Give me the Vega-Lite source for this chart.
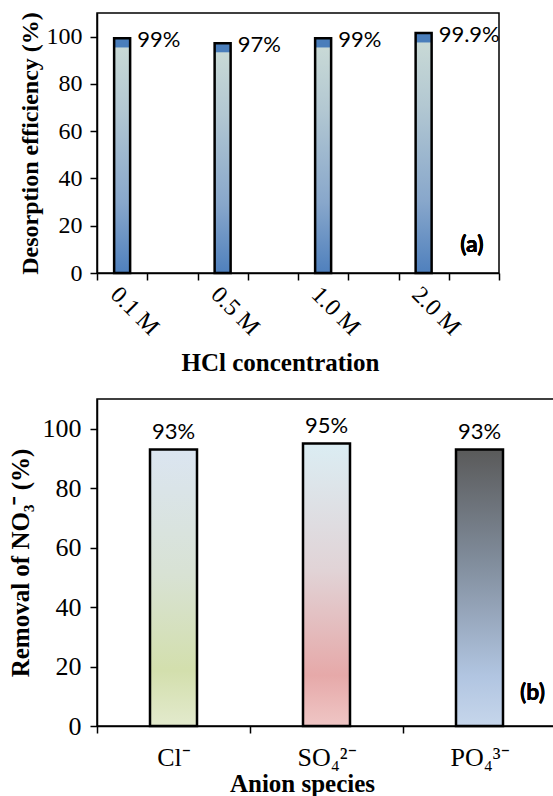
{
  "$schema": "https://vega.github.io/schema/vega-lite/v6.json",
  "padding": {"top": 10, "left": 7, "right": 0, "bottom": 0},
  "background": "white",
  "datasets": {
    "a": [
      {"conc": "0.1 M", "eff": 99.3, "label": "99%"},
      {"conc": "0.5 M", "eff": 97.2, "label": "97%"},
      {"conc": "1.0 M", "eff": 99.3, "label": "99%"},
      {"conc": "2.0 M", "eff": 101.5, "label": "99.9%"}
    ],
    "b": [
      {"anion": "Cl⁻", "removal": 93, "label": "93%"},
      {"anion": "SO₄²⁻", "removal": 95, "label": "95%"},
      {"anion": "PO₄³⁻", "removal": 93, "label": "93%"}
    ]
  },
  "config": {
    "view": {"stroke": "black", "strokeWidth": 1.5},
    "axis": {
      "grid": false,
      "domainColor": "black",
      "domainWidth": 1.5,
      "tickColor": "black",
      "tickWidth": 1.5,
      "labelColor": "black",
      "titleColor": "black",
      "labelFont": "Liberation Serif",
      "titleFont": "Liberation Serif",
      "titleFontWeight": "bold",
      "labelFontSize": 24,
      "titleFontSize": 25
    }
  },
  "spacing": 21,
  "vconcat": [
    {
      "width": 402,
      "height": 260,
      "data": {"name": "a"},
      "layer": [
        {
          "mark": {
            "type": "bar",
            "size": 16,
            "stroke": "black",
            "strokeWidth": 2.5,
            "fill": {
              "gradient": "linear", "x1": 0, "y1": 0, "x2": 0, "y2": 1,
              "stops": [
                {"offset": 0, "color": "#4a7ebb"},
                {"offset": 0.036, "color": "#4a7ebb"},
                {"offset": 0.042, "color": "#c8d9d6"},
                {"offset": 0.3, "color": "#b3c8d2"},
                {"offset": 0.7, "color": "#88a7cb"},
                {"offset": 1, "color": "#4f80bd"}
              ]
            }
          },
          "encoding": {
            "x": {
              "field": "conc", "type": "nominal",
              "scale": {"domain": ["0.1 M", "g1", "0.5 M", "g2", "1.0 M", "g3", "2.0 M", "g4"], "paddingInner": 0, "paddingOuter": 0},
              "axis": {
                "title": "HCl concentration",
                "titleX": 183,
                "tickBand": "extent",
                "tickSize": 7,
                "labelAngle": 45,
                "labelAlign": "left",
                "labelBaseline": "top",
                "labelPadding": 2,
                "labelExpr": "datum.label[0] == 'g' ? '' : datum.label",
                "titlePadding": 11
              }
            },
            "y": {
              "field": "eff", "type": "quantitative",
              "scale": {"domain": [0, 110], "nice": false},
              "axis": {"values": [0, 20, 40, 60, 80, 100], "title": "Desorption efficiency (%)", "titleFontSize": 24, "tickSize": 7, "labelPadding": 8, "titlePadding": 4}
            }
          }
        },
        {
          "mark": {"type": "text", "align": "left", "baseline": "middle", "dx": 15, "dy": 2, "font": "Lato", "fontSize": 22, "color": "black"},
          "encoding": {
            "x": {"field": "conc", "type": "nominal"},
            "y": {"field": "eff", "type": "quantitative"},
            "text": {"field": "label"}
          }
        },
        {
          "mark": {"type": "text", "font": "Lato", "fontWeight": "bold", "fontSize": 23, "color": "black", "baseline": "middle", "dx": -2},
          "encoding": {
            "x": {"datum": "g4", "type": "nominal"},
            "y": {"datum": 12, "type": "quantitative"},
            "text": {"value": "(a)"}
          }
        }
      ]
    },
    {
      "width": 459,
      "height": 327,
      "data": {"name": "b"},
      "encoding": {
        "x": {
          "field": "anion", "type": "nominal",
          "scale": {"domain": ["Cl⁻", "SO₄²⁻", "PO₄³⁻"], "paddingInner": 0, "paddingOuter": 0},
          "axis": {"title": "Anion species", "titleX": 205, "tickBand": "extent", "tickSize": 7, "labelAngle": 0, "labelPadding": 11, "labelFontSize": 26, "titlePadding": 1}
        },
        "y": {
          "field": "removal", "type": "quantitative",
          "scale": {"domain": [0, 110], "nice": false},
          "axis": {"values": [0, 20, 40, 60, 80, 100], "title": "Removal of NO₃⁻ (%)", "tickSize": 7, "labelPadding": 9, "labelFontSize": 26, "titlePadding": 9}
        }
      },
      "layer": [
        {
          "transform": [{"filter": "datum.anion == 'Cl⁻'"}],
          "mark": {
            "type": "bar", "size": 47, "stroke": "black", "strokeWidth": 2.5,
            "fill": {
              "gradient": "linear", "x1": 0, "y1": 0, "x2": 0, "y2": 1,
              "stops": [
                {"offset": 0, "color": "#dbe5f1"},
                {"offset": 0.45, "color": "#d8e2d4"},
                {"offset": 0.8, "color": "#d3dfad"},
                {"offset": 1, "color": "#e3eacd"}
              ]
            }
          }
        },
        {
          "transform": [{"filter": "datum.anion == 'SO₄²⁻'"}],
          "mark": {
            "type": "bar", "size": 47, "stroke": "black", "strokeWidth": 2.5,
            "fill": {
              "gradient": "linear", "x1": 0, "y1": 0, "x2": 0, "y2": 1,
              "stops": [
                {"offset": 0, "color": "#dbedf3"},
                {"offset": 0.45, "color": "#e1d3d6"},
                {"offset": 0.82, "color": "#e6a9a9"},
                {"offset": 1, "color": "#efc6c5"}
              ]
            }
          }
        },
        {
          "transform": [{"filter": "datum.anion == 'PO₄³⁻'"}],
          "mark": {
            "type": "bar", "size": 47, "stroke": "black", "strokeWidth": 2.5,
            "fill": {
              "gradient": "linear", "x1": 0, "y1": 0, "x2": 0, "y2": 1,
              "stops": [
                {"offset": 0, "color": "#5a5a5a"},
                {"offset": 0.4, "color": "#808c9b"},
                {"offset": 0.82, "color": "#b1c5e1"},
                {"offset": 1, "color": "#c6d6eb"}
              ]
            }
          }
        },
        {
          "mark": {"type": "text", "baseline": "bottom", "dy": -6, "font": "Lato", "fontSize": 22, "color": "black"},
          "encoding": {"text": {"field": "label"}}
        },
        {
          "mark": {"type": "text", "font": "Lato", "fontWeight": "bold", "fontSize": 23, "color": "black", "baseline": "middle", "dx": 53},
          "encoding": {
            "x": {"datum": "PO₄³⁻", "type": "nominal"},
            "y": {"datum": 11, "type": "quantitative"},
            "text": {"value": "(b)"}
          }
        }
      ]
    }
  ]
}
